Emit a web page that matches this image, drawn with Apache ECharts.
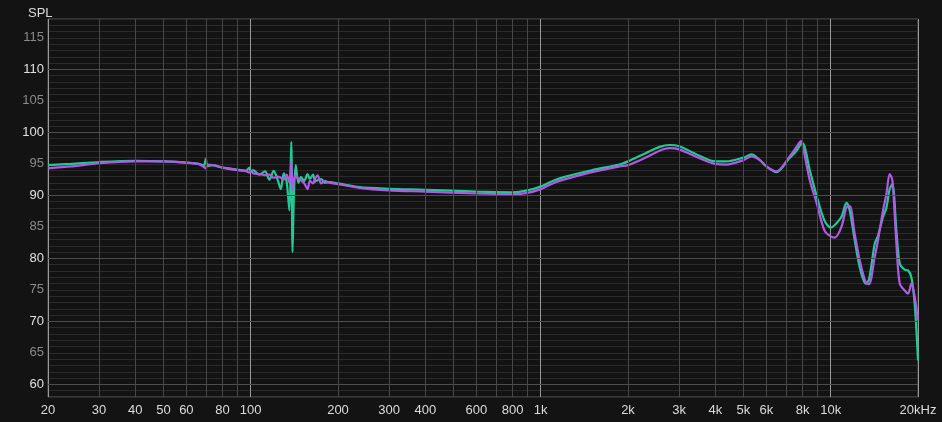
<!DOCTYPE html>
<html>
<head>
<meta charset="utf-8">
<script src="https://cdn.jsdelivr.net/npm/echarts@6/dist/echarts.min.js"></script>
<style>
html,body{margin:0;padding:0;background:#131313;}
#chart{width:942px;height:422px;}
</style>
</head>
<body>
<div id="chart"></div>
<script>
// Frequencies (Hz) shared by both measurements
const freqs = [20, 24, 30, 40, 50, 60, 66, 69, 70, 71, 74, 80, 90, 96, 99, 100, 102, 107, 112, 116, 120, 124, 127, 130, 133, 136, 138, 139.4, 141, 143, 146, 149, 153, 157, 160, 164, 167, 170, 175, 180, 187, 200, 237, 300, 400, 600, 800, 900, 1000, 1100, 1200, 1500, 1870, 2000, 2300, 2570, 2780, 3000, 3530, 4000, 4370, 5000, 5330, 5700, 6000, 6500, 7200, 7600, 7900, 8000, 8470, 8930, 9520, 10000, 10330, 10890, 11330, 11630, 12100, 12590, 13200, 13550, 14180, 14560, 15150, 15570, 15970, 16320, 16850, 17300, 18000, 18480, 18970, 19480, 20000];

const greenSPL = [94.8, 95.0, 95.3, 95.5, 95.4, 95.2, 95.0, 94.8, 95.8, 94.7, 94.8, 94.4, 94.1, 93.9, 94.4, 93.7, 94.0, 93.3, 93.8, 92.5, 93.9, 92.4, 91.0, 93.5, 92.2, 87.6, 98.5, 81.0, 90.5, 94.8, 92.0, 92.9, 92.3, 93.4, 92.6, 93.3, 92.2, 92.4, 92.6, 92.0, 92.1, 91.9, 91.3, 91.05, 90.9, 90.6, 90.5, 90.8, 91.4, 92.3, 92.9, 94.0, 94.9, 95.4, 96.7, 97.7, 98.0, 97.8, 96.3, 95.4, 95.4, 96.0, 96.5, 95.6, 94.6, 93.7, 95.9, 97.0, 98.2, 98.3, 94.0, 90.0, 86.0, 84.9, 85.3, 86.6, 88.8, 87.6, 82.9, 78.6, 76.0, 76.6, 82.3, 83.6, 86.6, 88.1, 91.0, 91.8, 84.4, 79.2, 78.2, 78.1, 77.0, 72.8, 63.8];

const purpleSPL = [94.3, 94.6, 95.1, 95.4, 95.4, 95.2, 95.0, 94.5, 94.3, 94.9, 94.8, 94.4, 94.0, 93.9, 93.6, 93.9, 93.5, 93.4, 93.2, 93.3, 92.8, 93.0, 92.8, 92.5, 93.3, 92.0, 95.3, 90.8, 92.5, 93.2, 92.6, 92.4, 91.9, 91.0, 92.3, 91.9, 92.7, 93.2, 91.9, 92.3, 92.0, 91.8, 91.2, 90.8, 90.6, 90.3, 90.2, 90.4, 91.0, 91.9, 92.5, 93.7, 94.6, 94.8, 96.0, 97.1, 97.5, 97.3, 95.9, 95.0, 94.9, 95.6, 96.2, 95.6, 94.6, 93.8, 96.1, 97.6, 98.6, 98.0, 92.4, 88.9, 84.4, 83.5, 83.3, 85.0, 88.1, 88.3, 83.9, 79.7, 76.2, 75.9, 80.2, 82.9, 87.6, 90.3, 93.4, 92.4, 82.3, 76.0, 74.9, 74.4, 76.0, 73.9, 70.2];

// Axis labels / grid
const xTickLabels = [20, 30, 40, 50, 60, 80, 100, 200, 300, 400, 600, 800, 1000, 2000, 3000, 4000, 5000, 6000, 8000, 10000, 20000];
const xMinorGrid = [30, 40, 50, 60, 70, 80, 90, 200, 300, 400, 500, 600, 700, 800, 900, 2000, 3000, 4000, 5000, 6000, 7000, 8000, 9000];
const yTickLabels = [60, 65, 70, 75, 80, 85, 90, 95, 100, 105, 110, 115];
const yMajorGrid = [60, 70, 80, 90, 100, 110];

function fmtHz(v) {
  if (v === 20000) return '20kHz';
  if (v >= 1000) return (v / 1000) + 'k';
  return String(v);
}

const chart = echarts.init(document.getElementById('chart'));
const FONT = '"Liberation Sans", Arial, Helvetica, sans-serif';

chart.setOption({
  backgroundColor: '#131313',
  animation: false,
  title: {
    text: 'SPL', left: 23, top: 2,
    textStyle: { color: '#dcdcdc', fontSize: 13, fontWeight: 'normal', fontFamily: FONT }
  },
  grid: { left: 48, right: 24, top: 19, bottom: 25, show: true, borderColor: '#5a5a5a', borderWidth: 1, backgroundColor: 'transparent' },
  xAxis: {
    type: 'log', logBase: 10, min: 20, max: 20000,
    axisLine: { show: false },
    axisTick: { show: false },
    splitLine: { show: true, lineStyle: { color: '#9a9a9a', width: 1 } },
    axisLabel: {
      customValues: xTickLabels,
      formatter: function (v) { return fmtHz(v); },
      color: '#dcdcdc', fontSize: 13, fontFamily: FONT, margin: 7
    }
  },
  yAxis: {
    type: 'value', min: 58, max: 118, interval: 1,
    axisLine: { show: false },
    axisTick: { show: false },
    splitLine: { show: true, lineStyle: { color: '#2a2a2a', width: 1 } },
    axisLabel: {
      customValues: yTickLabels,
      formatter: function (v) { return (v % 10 === 0 ? '{a|' : '{b|') + v + '}'; },
      rich: {
        a: { color: '#e0e0e0', fontSize: 13, fontFamily: FONT },
        b: { color: '#8a8a8a', fontSize: 13, fontFamily: FONT }
      },
      margin: 4
    }
  },
  series: [
    {
      name: 'grid', type: 'line', data: [], silent: true,
      markLine: {
        silent: true, symbol: 'none', label: { show: false },
        lineStyle: { color: '#474747', width: 1, type: 'solid' },
        data: xMinorGrid.map(f => ({ xAxis: f }))
      }
    },
    {
      name: 'grid2', type: 'line', data: [], silent: true,
      markLine: {
        silent: true, symbol: 'none', label: { show: false },
        lineStyle: { color: '#4e4e4e', width: 1, type: 'solid' },
        data: yMajorGrid.map(v => ({ yAxis: v }))
      }
    },
    {
      name: 'Green', type: 'line', showSymbol: false, smooth: 0.3,
      lineStyle: { color: '#22c995', width: 2.2 },
      data: freqs.map((f, i) => [f, greenSPL[i]])
    },
    {
      name: 'Purple', type: 'line', showSymbol: false, smooth: 0.3,
      lineStyle: { color: '#b05ae6', width: 2.2 },
      data: freqs.map((f, i) => [f, purpleSPL[i]])
    }
  ]
});
</script>
</body>
</html>
